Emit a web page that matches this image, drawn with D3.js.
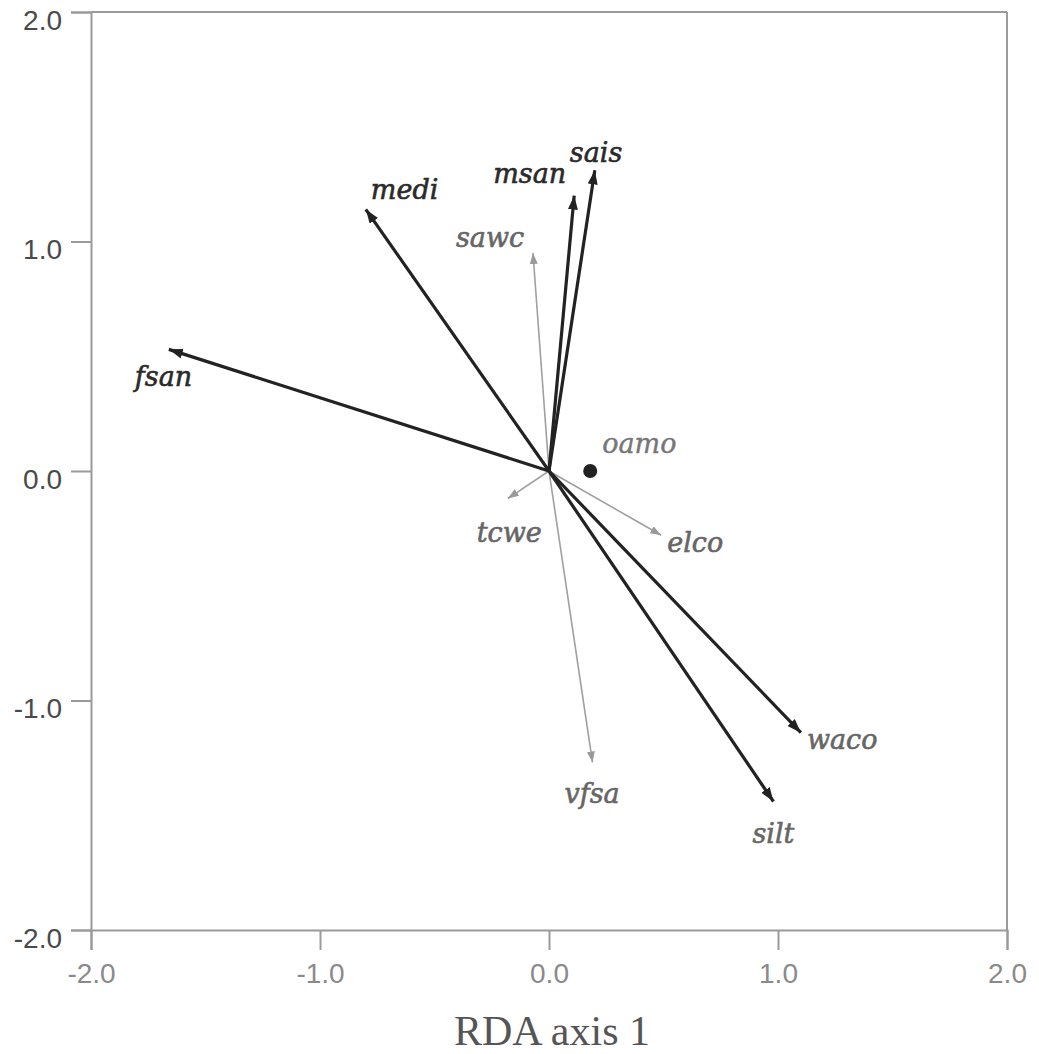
<!DOCTYPE html>
<html>
<head>
<meta charset="utf-8">
<script src="https://cdn.jsdelivr.net/npm/d3@7"></script>
<style>
  html, body { margin: 0; padding: 0; background: #fff; }
  svg { display: block; }
</style>
</head>
<body>
<svg id="chart" width="1039" height="1054"></svg>
<script>
// ---- data ----
const variables = ["sais", "msan", "sawc", "medi", "fsan", "tcwe", "elco", "waco", "silt", "vfsa"];
const axis1     = [0.20, 0.11, -0.07, -0.80, -1.66, -0.18, 0.49, 1.10, 0.98, 0.19];
const axis2     = [1.31, 1.20, 0.95, 1.14, 0.53, -0.12, -0.28, -1.14, -1.44, -1.27];
const significant = [true, true, false, true, true, false, false, true, true, false];
const pointNames = ["oamo"];
const pointX = [0.18];
const pointY = [0.00];
const xTicks = [-2, -1, 0, 1, 2];
const yTicks = [-2, -1, 0, 1, 2];
const xTitle = "RDA axis 1";

// ---- layout (pixel offsets of labels relative to arrow tips) ----
const labelDx = [-25, -81, -77, 5, -34, -31, 6, 6, -21, -28];
const labelDy = [-8, -13, -6, -10, 37, 43, 17, 16, 42, 41];
const pointLabelDx = [12], pointLabelDy = [-18];

const svg = d3.select("#chart");
const x = d3.scaleLinear().domain([-2, 2]).range([91, 1007]);
const y = d3.scaleLinear().domain([-2, 2]).range([930, 12]);

const axisColor = "#9a9a9a";
const fmt = d => d.toFixed(1);

// frame: top and right lines
svg.append("line").attr("x1", x(-2)).attr("x2", x(2)).attr("y1", y(2)).attr("y2", y(2))
  .attr("stroke", axisColor).attr("stroke-width", 2);
svg.append("line").attr("x1", x(2)).attr("x2", x(2)).attr("y1", y(2)).attr("y2", y(-2))
  .attr("stroke", axisColor).attr("stroke-width", 2);

// left axis
const yAxis = d3.axisLeft(y).tickValues(yTicks).tickSize(20).tickPadding(9).tickFormat(fmt);
const gy = svg.append("g").attr("transform", `translate(${x(-2)},0)`).call(yAxis);
gy.select(".domain").attr("stroke", axisColor).attr("stroke-width", 2);
gy.selectAll(".tick line").attr("stroke", axisColor).attr("stroke-width", 2);
gy.selectAll(".tick text").attr("font-family", "Liberation Sans, Arial, sans-serif")
  .attr("font-size", 28).attr("fill", "#4a4a4a").attr("dy", "0.62em");

// bottom axis
const xAxis = d3.axisBottom(x).tickValues(xTicks).tickSize(20).tickPadding(12).tickFormat(fmt);
const gx = svg.append("g").attr("transform", `translate(0,${y(-2)})`).call(xAxis);
gx.select(".domain").attr("stroke", axisColor).attr("stroke-width", 2);
gx.selectAll(".tick line").attr("stroke", axisColor).attr("stroke-width", 2);
gx.selectAll(".tick text").attr("font-family", "Liberation Sans, Arial, sans-serif")
  .attr("font-size", 28).attr("fill", "#8a8a8a").attr("dy", "0.75em");

// axis title
svg.append("text").attr("x", (x(-2) + x(2)) / 2 + 3).attr("y", 1045)
  .attr("text-anchor", "middle")
  .attr("font-family", "Liberation Serif, Times New Roman, serif")
  .attr("font-size", 42).attr("fill", "#555")
  .text(xTitle);

// arrowheads
const defs = svg.append("defs");
function marker(id, color, w, h) {
  defs.append("marker").attr("id", id)
    .attr("viewBox", `0 -${h / 2} ${w} ${h}`)
    .attr("refX", w).attr("refY", 0)
    .attr("markerWidth", w).attr("markerHeight", h)
    .attr("markerUnits", "userSpaceOnUse")
    .attr("orient", "auto")
    .append("path").attr("d", `M0,-${h / 2}L${w},0L0,${h / 2}Z`).attr("fill", color);
}
marker("headBlack", "#222", 14, 10);
marker("headGray", "#9a9a9a", 11, 8);

const data = variables.map((name, i) => ({
  name, vx: axis1[i], vy: axis2[i], sig: significant[i], dx: labelDx[i], dy: labelDy[i]
}));

// gray (non-significant) arrows first, then black
const sorted = data.slice().sort((a, b) => (a.sig === b.sig ? 0 : a.sig ? 1 : -1));
svg.append("g").selectAll("line").data(sorted).join("line")
  .attr("x1", x(0)).attr("y1", y(0))
  .attr("x2", d => x(d.vx)).attr("y2", d => y(d.vy))
  .attr("stroke", d => d.sig ? "#222" : "#a0a0a0")
  .attr("stroke-width", d => d.sig ? 3.2 : 1.6)
  .attr("marker-end", d => d.sig ? "url(#headBlack)" : "url(#headGray)");

const blackLabels = ["sais", "msan", "medi", "fsan"];
svg.append("g").selectAll("text").data(data).join("text")
  .attr("x", d => x(d.vx) + d.dx).attr("y", d => y(d.vy) + d.dy)
  .attr("font-family", "DejaVu Serif, serif").attr("font-style", "italic")
  .attr("font-size", 27)
  .attr("fill", d => blackLabels.includes(d.name) ? "#2a2a2a" : "#666")
  .attr("stroke", d => blackLabels.includes(d.name) ? "#2a2a2a" : "#666")
  .attr("stroke-width", 0.6)
  .text(d => d.name);

// point
const pts = pointNames.map((n, i) => ({ name: n, vx: pointX[i], vy: pointY[i], dx: pointLabelDx[i], dy: pointLabelDy[i] }));
svg.append("g").selectAll("circle").data(pts).join("circle")
  .attr("cx", d => x(d.vx)).attr("cy", d => y(d.vy)).attr("r", 7).attr("fill", "#222");
svg.append("g").selectAll("text").data(pts).join("text")
  .attr("x", d => x(d.vx) + d.dx).attr("y", d => y(d.vy) + d.dy)
  .attr("font-family", "DejaVu Serif, serif").attr("font-style", "italic")
  .attr("font-size", 27).attr("fill", "#777").attr("stroke", "#777").attr("stroke-width", 0.4)
  .text(d => d.name);
</script>
</body>
</html>
